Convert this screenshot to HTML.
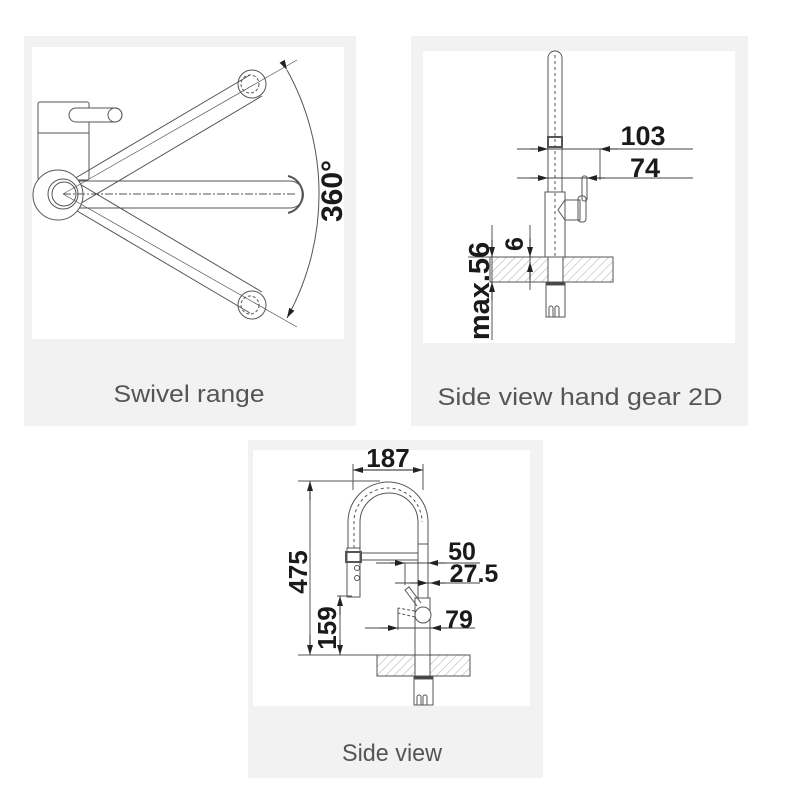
<!DOCTYPE html>
<html><head><meta charset="utf-8"><style>
html,body{margin:0;padding:0;background:#fff;}
svg{display:block;}
text{font-family:"Liberation Sans",sans-serif;}
.cap{fill:#555;font-size:24px;}
.dim{fill:#1a1a1a;font-weight:bold;}
</style></head><body>
<svg width="800" height="800" viewBox="0 0 800 800" xmlns="http://www.w3.org/2000/svg">
<defs>
<pattern id="h" width="6" height="6" patternUnits="userSpaceOnUse" patternTransform="rotate(45)">
<line x1="0" y1="0" x2="0" y2="6" stroke="#999" stroke-width="0.8"/></pattern>
<marker id="a" viewBox="0 0 10 6" refX="10" refY="3" markerWidth="10" markerHeight="6" orient="auto" markerUnits="userSpaceOnUse"><path d="M0,0 L10,3 L0,6z" fill="#222"/></marker>
</defs>
<rect x="24" y="36" width="332" height="390" fill="#f2f2f2"/>
<rect x="32" y="47" width="312" height="292" fill="#fff"/>
<rect x="411" y="36" width="337" height="390" fill="#f2f2f2"/>
<rect x="423" y="51" width="312" height="292" fill="#fff"/>
<rect x="248" y="440" width="295" height="338" fill="#f2f2f2"/>
<rect x="253" y="450" width="277" height="256" fill="#fff"/>
<text class="cap" x="189" y="402" text-anchor="middle" textLength="151" lengthAdjust="spacingAndGlyphs">Swivel range</text>
<text class="cap" x="580" y="405" text-anchor="middle" textLength="285" lengthAdjust="spacingAndGlyphs">Side view hand gear 2D</text>
<text class="cap" x="392" y="761" text-anchor="middle" textLength="100" lengthAdjust="spacingAndGlyphs">Side view</text>

<g fill="none" stroke="#555" stroke-width="1">
<rect x="38" y="102" width="51" height="78" rx="2"/>
<line x1="38" y1="133" x2="89" y2="133"/>
<path d="M76,108 H115 A7,7 0 0 1 115,122 H76 A7,7 0 0 1 76,108z" fill="#fff"/>
<circle cx="115" cy="115" r="7"/>
<path d="M67,181 H290 A13,13 0 0 1 290,208 H67" fill="#fff"/>
<path d="M288,176 A19,19 0 0 1 288,213" stroke-width="2"/>
<path d="M67,183 L250,75 M78,205 L262,96" />
<path d="M67,205 L250,313 M78,183 L262,292" />
<circle cx="252" cy="84" r="14"/><circle cx="252" cy="305" r="14"/>
<circle cx="250" cy="84" r="9" stroke-dasharray="3,2"/><circle cx="250" cy="305" r="9" stroke-dasharray="3,2"/>
<circle cx="58" cy="195" r="25" fill="#fff"/>
<circle cx="63" cy="194" r="15"/><circle cx="64" cy="194" r="12"/>
<line x1="63" y1="194" x2="297" y2="194" stroke-dasharray="8,2,2,2"/>
<line x1="63" y1="194" x2="297" y2="60" stroke-width="0.7"/>
<line x1="63" y1="194" x2="297" y2="327" stroke-width="0.7"/>
<path d="M287,70 A256,256 0 0 1 287,318" marker-start="url(#a)" marker-end="url(#a)"/>
</g>
<text class="dim" transform="translate(342,191) rotate(-90)" text-anchor="middle" font-size="30">360°</text>

<g fill="none" stroke="#555" stroke-width="1">
<path d="M548,137 V58 A7,7 0 0 1 562,58 V137"/>
<rect x="548" y="137" width="14" height="10" stroke-width="2"/>
<rect x="548" y="147" width="14" height="45"/>
<rect x="545" y="192" width="20" height="65"/>
<path d="M565,200 H580 V220 H565 L558,210z"/>
<rect x="578" y="196" width="8" height="26" rx="3"/>
<rect x="582" y="176" width="5" height="25" rx="2"/>
<line x1="555" y1="55" x2="555" y2="257" stroke-dasharray="3,3"/>
<rect x="490" y="257" width="123" height="25" fill="url(#h)"/>
<line x1="490" y1="257" x2="613" y2="257"/><line x1="490" y1="282" x2="613" y2="282"/>
<rect x="548" y="257" width="15" height="25" fill="#fff"/>
<rect x="546" y="282" width="19" height="3" fill="#444"/>
<path d="M546,285 V317 H565 V285 M549,317 V308 A2,2 0 0 1 553,308 V317 M555,317 V308 A2,2 0 0 1 559,308 V317"/>
<line x1="517" y1="149" x2="693" y2="149" stroke="#444"/>
<line x1="517" y1="178" x2="693" y2="178" stroke="#444"/>
<line x1="600" y1="149" x2="600" y2="180"/>
<line x1="468" y1="257" x2="613" y2="257"/>
<line x1="492" y1="225" x2="492" y2="340"/>
<line x1="530" y1="225" x2="530" y2="290"/>
</g>
<g stroke="#222" stroke-width="1">
<line x1="530" y1="149" x2="548" y2="149" marker-end="url(#a)"/>
<line x1="618" y1="149" x2="600" y2="149" marker-end="url(#a)"/>
<line x1="530" y1="178" x2="548" y2="178" marker-end="url(#a)"/>
<line x1="605" y1="178" x2="587" y2="178" marker-end="url(#a)"/>
<line x1="492" y1="240" x2="492" y2="257" marker-end="url(#a)"/>
<line x1="492" y1="300" x2="492" y2="282" marker-end="url(#a)"/>
<line x1="530" y1="238" x2="530" y2="257" marker-end="url(#a)"/>
<line x1="530" y1="280" x2="530" y2="262" marker-end="url(#a)"/>
</g>
<text class="dim" x="643" y="145" text-anchor="middle" font-size="27">103</text>
<text class="dim" x="645" y="177" text-anchor="middle" font-size="27">74</text>
<text class="dim" transform="translate(523,244) rotate(-90)" text-anchor="middle" font-size="25">6</text>
<text class="dim" transform="translate(489,291) rotate(-90)" text-anchor="middle" font-size="29">max.56</text>

<g fill="none" stroke="#555" stroke-width="1">
<path d="M348,548 V522 A40,40 0 0 1 428,522 V598"/>
<path d="M360,548 V522 A28,28 0 0 1 418,522 V598"/>
<path d="M354,548 V522 A34,34 0 0 1 422,522" stroke-dasharray="3,3"/>
<rect x="347" y="548" width="13" height="49"/>
<rect x="346" y="552" width="15" height="10" stroke-width="2"/>
<circle cx="357" cy="568" r="2.5"/><circle cx="357" cy="578" r="2.5"/>
<rect x="360" y="553" width="58" height="7"/>
<rect x="418" y="544" width="10" height="54"/>
<rect x="415" y="598" width="15" height="57"/>
<circle cx="423" cy="615" r="8" fill="#fff"/>
<path d="M417,606 L405,590 L409,587 L421,603" />
<path d="M415,617 L398,613 M415,611 L398,608" stroke-dasharray="3,2"/>
<rect x="377" y="655" width="93" height="21" fill="url(#h)"/>
<line x1="298" y1="655" x2="470" y2="655"/><line x1="377" y1="676" x2="470" y2="676"/>
<rect x="415" y="655" width="15" height="21" fill="#fff"/>
<rect x="414" y="676" width="19" height="3" fill="#444"/>
<path d="M414,679 V705 H433 V679 M417,705 V697 A2,2 0 0 1 421,697 V705 M423,705 V697 A2,2 0 0 1 427,697 V705"/>
<line x1="353" y1="464" x2="353" y2="490"/><line x1="423" y1="464" x2="423" y2="490"/>
<line x1="298" y1="481" x2="380" y2="481"/>
<line x1="337" y1="596" x2="352" y2="596"/>
<line x1="310" y1="481" x2="310" y2="655"/>
<line x1="340" y1="596" x2="340" y2="655"/>
<line x1="376" y1="563" x2="480" y2="563" stroke="#444"/>
<line x1="395" y1="583" x2="480" y2="583" stroke="#444"/>
<line x1="365" y1="628" x2="475" y2="628" stroke="#444"/>
<line x1="405" y1="563" x2="405" y2="585"/>
<line x1="398" y1="608" x2="398" y2="630"/>
</g>
<g stroke="#222" stroke-width="1">
<line x1="370" y1="470" x2="353" y2="470" marker-end="url(#a)"/>
<line x1="405" y1="470" x2="423" y2="470" marker-end="url(#a)"/>
<line x1="370" y1="470" x2="405" y2="470"/>
<line x1="310" y1="500" x2="310" y2="481" marker-end="url(#a)"/>
<line x1="310" y1="635" x2="310" y2="655" marker-end="url(#a)"/>
<line x1="340" y1="615" x2="340" y2="596" marker-end="url(#a)"/>
<line x1="340" y1="640" x2="340" y2="655" marker-end="url(#a)"/>
<line x1="390" y1="563" x2="405" y2="563" marker-end="url(#a)"/>
<line x1="445" y1="563" x2="428" y2="563" marker-end="url(#a)"/>
<line x1="410" y1="583" x2="428" y2="583" marker-end="url(#a)"/>
<line x1="445" y1="583" x2="430" y2="583" marker-end="url(#a)"/>
<line x1="380" y1="628" x2="398" y2="628" marker-end="url(#a)"/>
<line x1="447" y1="628" x2="431" y2="628" marker-end="url(#a)"/>
</g>
<text class="dim" x="388" y="467" text-anchor="middle" font-size="26">187</text>
<text class="dim" x="462" y="560" text-anchor="middle" font-size="25">50</text>
<text class="dim" x="474" y="582" text-anchor="middle" font-size="25">27.5</text>
<text class="dim" x="459" y="628" text-anchor="middle" font-size="25">79</text>
<text class="dim" transform="translate(307,572) rotate(-90)" text-anchor="middle" font-size="26">475</text>
<text class="dim" transform="translate(336,628) rotate(-90)" text-anchor="middle" font-size="26">159</text>
</svg>
</body></html>
